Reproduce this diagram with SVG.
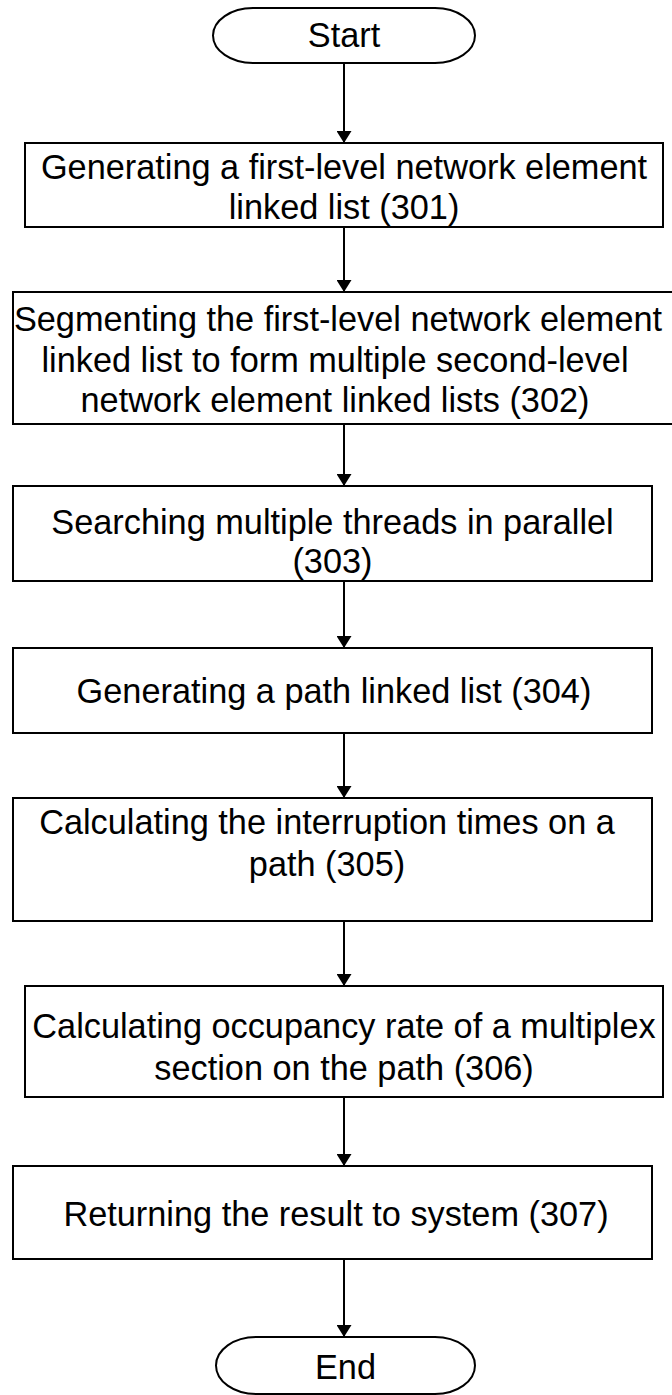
<svg xmlns="http://www.w3.org/2000/svg" width="672" height="1395" viewBox="0 0 672 1395">
<style>
.shape{fill:#fff;stroke:#000;stroke-width:2}
.t{font-family:"Liberation Sans",Arial,sans-serif;font-size:34.3px;fill:#000;text-anchor:middle}
.c{stroke:#000;stroke-width:2;fill:none}
</style>
<defs>
<marker id="ah" viewBox="0 0 12 15" refX="12" refY="7.5" markerWidth="12" markerHeight="15" markerUnits="userSpaceOnUse" orient="auto">
<path d="M0,0 L12,7.5 L0,15 z" fill="#000"/>
</marker>
</defs>
<rect width="672" height="1395" fill="#fff"/>
<g id="connectors">
<line class="c" x1="344" y1="63" x2="344" y2="143" marker-end="url(#ah)"/>
<line class="c" x1="344" y1="227" x2="344" y2="292" marker-end="url(#ah)"/>
<line class="c" x1="344" y1="424" x2="344" y2="486" marker-end="url(#ah)"/>
<line class="c" x1="344" y1="581" x2="344" y2="648" marker-end="url(#ah)"/>
<line class="c" x1="344" y1="733" x2="344" y2="798" marker-end="url(#ah)"/>
<line class="c" x1="344" y1="921" x2="344" y2="986" marker-end="url(#ah)"/>
<line class="c" x1="344" y1="1097" x2="344" y2="1166" marker-end="url(#ah)"/>
<line class="c" x1="344" y1="1259" x2="344" y2="1337" marker-end="url(#ah)"/>
</g>
<g id="start">
<rect class="shape" x="213" y="8" width="262" height="55" rx="40" ry="27.5"/>
<text class="t" x="344" y="47">Start</text>
</g>
<g id="n301">
<rect class="shape" x="25" y="143" width="638" height="84"/>
<text class="t" x="344" y="178.5">Generating a first-level network element</text>
<text class="t" x="344" y="219">linked list (301)</text>
</g>
<g id="n302">
<rect class="shape" x="13" y="292" width="664" height="132"/>
<text class="t" x="338" y="331">Segmenting the first-level network element</text>
<text class="t" x="335" y="371.5">linked list to form multiple second-level</text>
<text class="t" x="335" y="412">network element linked lists (302)</text>
</g>
<g id="n303">
<rect class="shape" x="13" y="486" width="639" height="95"/>
<text class="t" x="332.5" y="534">Searching multiple threads in parallel</text>
<text class="t" x="332.5" y="573">(303)</text>
</g>
<g id="n304">
<rect class="shape" x="13" y="648" width="639" height="85"/>
<text class="t" x="334" y="703">Generating a path linked list (304)</text>
</g>
<g id="n305">
<rect class="shape" x="13" y="798" width="639" height="123"/>
<text class="t" x="327" y="834">Calculating the interruption times on a</text>
<text class="t" x="327" y="876">path (305)</text>
</g>
<g id="n306">
<rect class="shape" x="25" y="986" width="638" height="111"/>
<text class="t" x="344" y="1038">Calculating occupancy rate of a multiplex</text>
<text class="t" x="344" y="1080">section on the path (306)</text>
</g>
<g id="n307">
<rect class="shape" x="13" y="1166" width="639" height="93"/>
<text class="t" x="336" y="1225.5">Returning the result to system (307)</text>
</g>
<g id="end">
<rect class="shape" x="216" y="1337" width="259" height="57" rx="40" ry="28.5"/>
<text class="t" x="345.5" y="1379">End</text>
</g>
</svg>
